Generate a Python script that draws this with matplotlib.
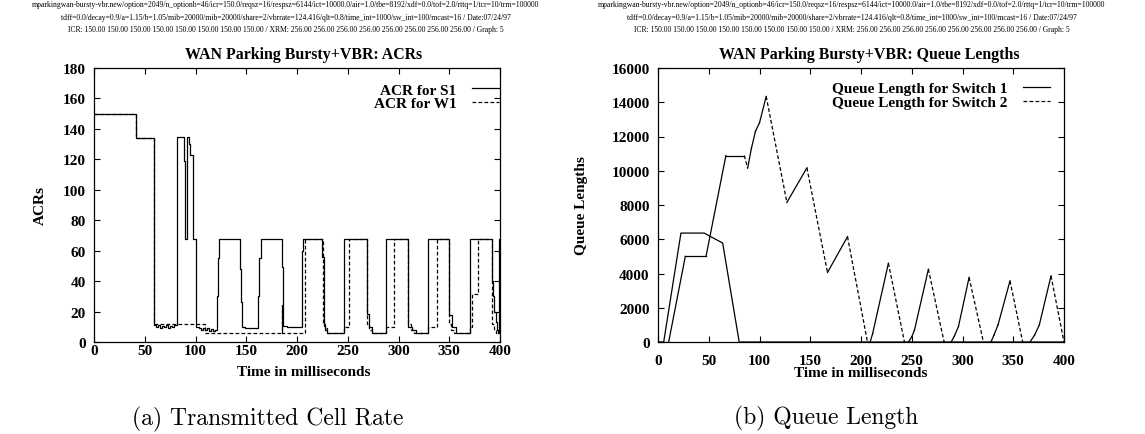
import matplotlib
matplotlib.use("Agg")
import matplotlib.pyplot as plt
from matplotlib.ticker import MultipleLocator

SERIF = "Liberation Serif"
CAPTION_FONT = "cmr10"
BLACK = "black"
DASH = (0, (3.0, 1.8))

# ---------------- data ----------------
header_lines = [
    "mparkingwan-bursty-vbr.new/option=2049/n_optionb=46/icr=150.0/reqsz=16/respsz=6144/ict=10000.0/air=1.0/tbe=8192/xdf=0.0/tof=2.0/rttq=1/tcr=10/trm=100000",
    "tdff=0.0/decay=0.9/a=1.15/b=1.05/mib=20000/mib=20000/share=2/vbrrate=124.416/qlt=0.8/time_int=1000/sw_int=100/mcast=16 / Date:07/24/97",
    "ICR: 150.00 150.00 150.00 150.00 150.00 150.00 150.00 150.00 / XRM: 256.00 256.00 256.00 256.00 256.00 256.00 256.00 256.00 / Graph: 5",
]

# ACR for S1 : step values (value holds from t until next t)
acr_s1_t = [0, 41.4, 59.2, 61, 63, 65, 67, 69, 71, 73, 75, 77, 79, 81.5, 88.6, 89.6, 91.9,
            93.3, 94.5, 97.3, 100.6, 103, 105, 107, 109, 111, 113, 115, 117, 119, 120.8,
            121.8, 123, 143.8, 145, 146.2, 149, 162, 163, 164.3, 184.9, 185.9, 190, 204.6,
            205.3, 206, 225, 226.5, 228, 229.5, 246.3, 268.7, 270.5, 273.5, 287.4, 309.7,
            313, 317, 328.7, 350, 352.5, 356.5, 370.8, 391.8, 393, 394.3, 395.6, 397, 398.5,
            399.3, 400]
acr_s1 = [150, 134, 11, 10, 11, 9.5, 10.5, 10, 11, 9.5, 10.5, 10, 11, 135, 119, 67.7, 135,
          130, 123, 67.7, 10, 9, 8, 9.5, 8, 9, 7.5, 8.5, 7, 8, 30,
          55, 67.7, 48, 26, 10, 9.5, 30, 55, 67.7, 49, 10.5, 10, 40,
          60, 67.7, 55.6, 10.7, 8, 6, 67.7, 18.4, 10, 6, 67.7, 10,
          8, 6, 67.7, 18, 10, 6, 67.7, 40, 30, 20, 13, 8, 6,
          67.7, 67.7]

# ACR for W1
acr_w1_t = [0, 41.4, 59.2, 109.4, 184.8, 185.6, 207.9, 225.3, 227.5, 230, 246.3, 251,
            268.9, 271, 274, 287.4, 295.6, 309.7, 312, 315, 328.7, 338.2, 350, 352, 355,
            370.8, 372.7, 378, 391.8, 394, 396, 400]
acr_w1 = [150, 134, 11.5, 6, 24.5, 6, 67.7, 12, 9, 6, 10, 67.7,
          12, 8, 6, 10, 67.7, 12, 8, 6, 10, 67.7, 12, 8, 6,
          10, 31.5, 67.7, 12, 8, 6, 6]

# Queue lengths
q1_t = [0, 5.6, 22.6, 45.6, 52, 63.7, 80, 400]
q1 = [0, 0, 6360, 6360, 6150, 5780, 0, 0]

q2_t = [0, 10.5, 26.9, 47.3, 66.9, 85, 88.3, 92, 96, 100, 106.6, 127, 146.7, 167, 186.7,
        206.4, 209, 211.5, 227, 242.8, 246.8, 250, 252.7, 266.4, 281.9, 288.8, 292, 296,
        306.5, 320.6, 328, 331, 335, 346.8, 359.3, 366.5, 371, 375.7, 387.2, 400]
q2 = [0, 0, 4995, 4995, 10890, 10890, 10150, 11300, 12300, 12800, 14340, 8150, 10170, 4060,
      6150, 0, 0, 500, 4600, 0, 0, 300, 700, 4250, 0, 0, 350, 900,
      3770, 0, 0, 400, 1000, 3570, 0, 0, 400, 1000, 3860, 0]

# ---------------- figure ----------------
fig = plt.figure(figsize=(11.45, 4.35), dpi=100)
fig.patch.set_facecolor("white")

ax1 = fig.add_axes([94 / 1145, 92 / 435, 406 / 1145, 274 / 435])
ax2 = fig.add_axes([658 / 1145, 92 / 435, 406 / 1145, 274 / 435])


def style_axes(ax, ymax, ystep, xpad):
    ax.set_xlim(0, 400)
    ax.set_ylim(0, ymax)
    ax.xaxis.set_major_locator(MultipleLocator(50))
    ax.yaxis.set_major_locator(MultipleLocator(ystep))
    ax.tick_params(direction="in", top=True, right=True, length=4.5, width=0.8,
                   labelsize=11)
    ax.tick_params(axis="x", pad=xpad)
    ax.tick_params(axis="y", pad=6)
    for lab in ax.get_xticklabels() + ax.get_yticklabels():
        lab.set_fontfamily(SERIF)
        lab.set_fontweight("bold")
    for s in ax.spines.values():
        s.set_linewidth(0.9)


# ---- left: ACRs ----
ax1.plot(acr_w1_t, acr_w1, drawstyle="steps-post", color=BLACK, lw=0.9, ls=DASH,
         label="ACR for W1")
ax1.plot(acr_s1_t, acr_s1, drawstyle="steps-post", color=BLACK, lw=0.9, label="ACR for S1")
style_axes(ax1, 180, 20, 1.5)
h, l = ax1.get_legend_handles_labels()
ax1.legend(h[::-1], l[::-1], loc="upper right", bbox_to_anchor=(0.998, 0.945), frameon=False,
           markerfirst=False, borderaxespad=0, borderpad=0, labelspacing=0.0,
           handlelength=1.8, handletextpad=1.0,
           prop={"family": SERIF, "weight": "bold", "size": 11})

# ---- right: queue lengths (rising parts look solid in the original, falling ones dashed) ----
ax2.plot(q1_t, q1, color=BLACK, lw=0.9, label="Queue Length for Switch 1")
for i in range(len(q2_t) - 1):
    ls = DASH if q2[i + 1] < q2[i] else "-"
    ax2.plot(q2_t[i:i + 2], q2[i:i + 2], color=BLACK, lw=0.9, ls=ls)
ax2.plot([], [], color=BLACK, lw=0.9, ls=DASH, label="Queue Length for Switch 2")
style_axes(ax2, 16000, 2000, 8.5)
ax2.legend(loc="upper right", bbox_to_anchor=(0.966, 0.95), frameon=False,
           markerfirst=False, borderaxespad=0, borderpad=0, labelspacing=0.0,
           handlelength=1.8, handletextpad=1.0,
           prop={"family": SERIF, "weight": "bold", "size": 11})

# ---------------- texts ----------------
for cx in (286, 852):
    for yy, line in zip((5, 17.5, 30), header_lines):
        fig.text(cx / 1145, 1 - yy / 435, line, ha="center", va="center",
                 fontsize=5.5, family=SERIF)

fig.text(304 / 1145, 1 - 55 / 435, "WAN Parking Bursty+VBR: ACRs", ha="center",
         va="center", fontsize=11.4, fontweight="bold", family=SERIF)
fig.text(869 / 1145, 1 - 55 / 435, "WAN Parking Bursty+VBR: Queue Lengths", ha="center",
         va="center", fontsize=11.4, fontweight="bold", family=SERIF)

fig.text(304 / 1145, 1 - 372 / 435, "Time in milliseconds", ha="center", va="center",
         fontsize=11, fontweight="bold", family=SERIF)
fig.text(861 / 1145, 1 - 374 / 435, "Time in milliseconds", ha="center", va="center",
         fontsize=11, fontweight="bold", family=SERIF)

fig.text(40 / 1145, 1 - 206 / 435, "ACRs", ha="center", va="center", rotation=90,
         fontsize=11, fontweight="bold", family=SERIF)
fig.text(582 / 1145, 1 - 206 / 435, "Queue Lengths", ha="center", va="center", rotation=90,
         fontsize=11, fontweight="bold", family=SERIF)

fig.text(268 / 1145, 1 - 419 / 435, "(a) Transmitted Cell Rate", ha="center", va="center",
         fontsize=17, family=CAPTION_FONT)
fig.text(826 / 1145, 1 - 418 / 435, "(b) Queue Length", ha="center", va="center",
         fontsize=17, family=CAPTION_FONT)

fig.savefig("out.png", dpi=100, facecolor="white")
